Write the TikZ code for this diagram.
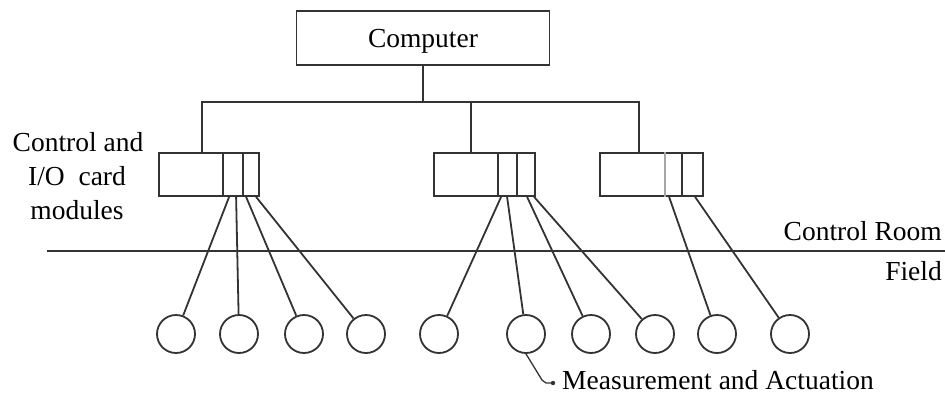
\documentclass[tikz,border=0pt]{standalone}
\usepackage{fontspec}
\setmainfont{Liberation Serif}
\usetikzlibrary{calc}
\begin{document}
\begin{tikzpicture}[x=1pt,y=-1pt,
  every node/.style={font=\fontsize{27.5}{31}\selectfont},
  ln/.style={line width=1.8pt,black!80},
  box/.style={draw,ln,rectangle,minimum height=43pt,inner sep=0pt},
  dev/.style={draw,ln,circle,minimum size=38pt,inner sep=0pt},
  lbl/.style={inner sep=0pt}]
\useasboundingbox (0,0) rectangle (945,397);
% computer
\node[draw,ln,minimum width=253pt,minimum height=54pt,inner sep=0pt] (comp) at (423,38) {};
\node[lbl,anchor=base] (comptxt) at (423,47) {Computer};
% card modules
\node[box,minimum width=100pt] (b1) at (209,174.5) {};
\node[box,minimum width=101pt] (b2) at (484.5,174.5) {};
\node[box,minimum width=103pt] (b3) at (651.5,174.5) {};
\draw[ln] ([xshift=65pt]b1.north west) -- ([xshift=65pt]b1.south west);
\draw[ln] ([xshift=85pt]b1.north west) -- ([xshift=85pt]b1.south west);
\draw[ln] ([xshift=65pt]b2.north west) -- ([xshift=65pt]b2.south west);
\draw[ln] ([xshift=84pt]b2.north west) -- ([xshift=84pt]b2.south west);
\draw[line width=1.8pt,black!35] ([xshift=66pt]b3.north west) -- ([xshift=66pt]b3.south west);
\draw[ln] ([xshift=83pt]b3.north west) -- ([xshift=83pt]b3.south west);
% bus
\coordinate (j0) at (423,102);
\coordinate (jl) at (202,102);
\coordinate (jm) at (471,102);
\coordinate (jr) at (639,102);
\draw[ln] (comp.south) -- (j0);
\draw[ln] (b1.north -| jl) -- (jl) -- (jr) -- (b3.north -| jr);
\draw[ln] (jm) -- (b2.north -| jm);
% divider line
\coordinate (hl) at (47,251);
\coordinate (hr) at (945,251);
\draw[ln] (hl) -- (hr);
\node[lbl,anchor=base east] (room) at (942,240) {Control Room};
\node[lbl,anchor=base east] (field) at (942,280) {Field};
% left label
\node[lbl,anchor=base] (t1) at (78,151) {Control and};
\node[lbl,anchor=base] (t2) at (77,185) {I/O\ \ card};
\node[lbl,anchor=base] (t3) at (77,219) {modules};
% field devices
\foreach \i/\x in {1/176,2/239,3/304,4/366,5/439,6/526,7/591,8/655,9/717,10/790}
  \node[dev] (c\i) at (\x,334) {};
% connectors
\draw[ln] ([xshift=71pt]b1.south west) -- (c1);
\draw[ln] ([xshift=78pt]b1.south west) -- (c2);
\draw[ln] ([xshift=88pt]b1.south west) -- (c3);
\draw[ln] ([xshift=98pt]b1.south west) -- (c4);
\draw[ln] ([xshift=68pt]b2.south west) -- (c5);
\draw[ln] ([xshift=74pt]b2.south west) -- (c6);
\draw[ln] ([xshift=94pt]b2.south west) -- (c7);
\draw[ln] ([xshift=101pt]b2.south west) -- (c8);
\draw[ln] ([xshift=70pt]b3.south west) -- (c9);
\draw[ln] ([xshift=96pt]b3.south west) -- (c10);
% measurement label
\coordinate (dot) at (553,383);
\draw[line width=1.3pt,black!80] (c6.south) -- (542,380) -- (546,383) -- (dot);
\fill[black!80] (dot) circle (2.2pt);
\node[lbl,anchor=base west] (meas) at (562,389) {Measurement and Actuation};
\end{tikzpicture}
\end{document}
